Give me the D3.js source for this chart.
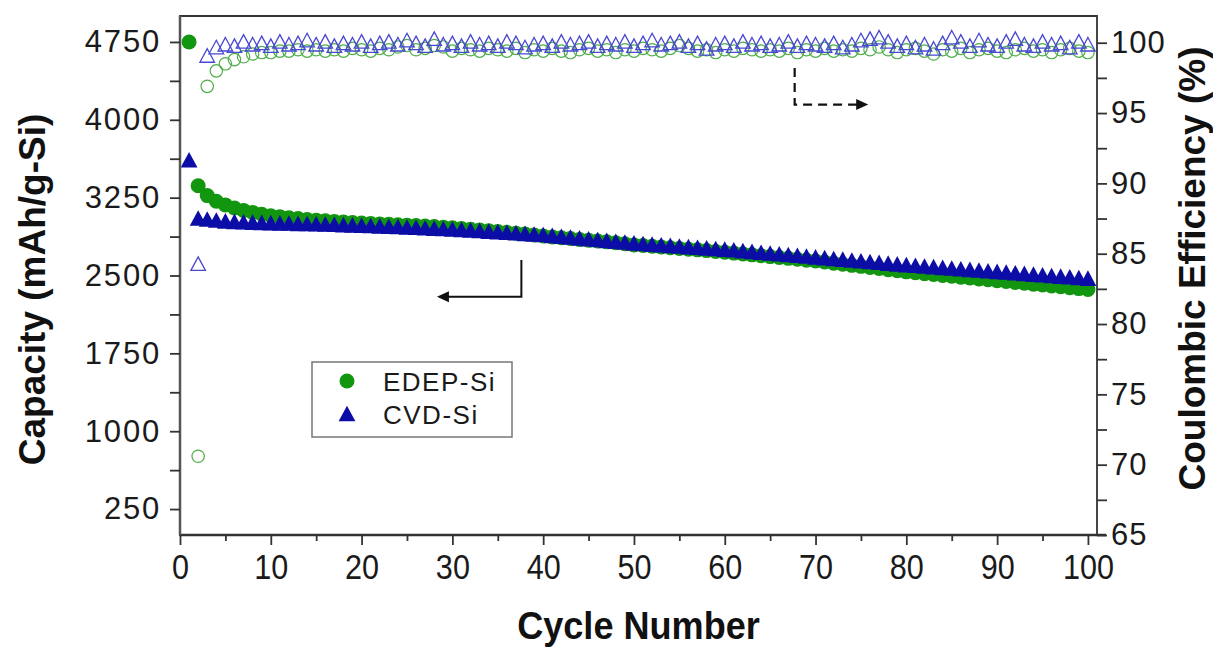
<!DOCTYPE html>
<html>
<head>
<meta charset="utf-8">
<script src="https://cdn.jsdelivr.net/npm/d3@7"></script>
<style>
html,body{margin:0;padding:0;background:#fff;}
svg{display:block;font-family:"Liberation Sans",Arial,sans-serif;}
</style>
</head>
<body>
<svg id="chart" width="1213" height="649"></svg>
<script>
// ---------------- DATA ----------------
const cycles = d3.range(1, 101);
const edepCapacity = [4750,3365,3270,3215,3180,3150,3127,3108,3090,3075,
3065,3056,3048,3040,3033,3027,3021,3016,3010,3005,
3001,2997,2993,2989,2985,2981,2977,2972,2966,2960,
2953,2946,2939,2932,2924,2916,2908,2900,2890,2880,
2872,2864,2856,2848,2840,2832,2824,2816,2806,2795,
2789,2782,2775,2768,2761,2754,2747,2740,2732,2725,
2716,2708,2699,2691,2682,2674,2665,2657,2648,2640,
2630,2619,2609,2598,2588,2577,2567,2556,2546,2535,
2527,2518,2510,2501,2493,2484,2476,2467,2459,2450,
2442,2433,2425,2416,2408,2399,2391,2382,2374,2365];
const cvdCapacity = [3600,3040,3030,3020,3012,3007,3003,3000,2997,2995,
2993,2991,2988,2986,2984,2981,2979,2976,2973,2970,
2967,2964,2960,2957,2953,2950,2946,2942,2939,2935,
2930,2925,2919,2913,2908,2902,2897,2891,2886,2880,
2872,2864,2856,2848,2840,2832,2824,2816,2808,2800,
2794,2788,2782,2776,2770,2764,2758,2752,2746,2740,
2733,2725,2718,2710,2703,2695,2688,2680,2673,2665,
2658,2650,2643,2635,2628,2620,2613,2605,2598,2590,
2584,2577,2571,2564,2558,2551,2545,2538,2532,2525,
2519,2512,2506,2499,2493,2486,2480,2473,2467,2460];
// Coulombic efficiency, cycles 2..100
const ceCycles = d3.range(2, 101);
const edepCE = [70.6,96.9,98.0,98.5,98.8,99.0,99.2,99.3,99.3,
99.4,99.4,99.5,99.4,99.5,99.4,99.5,99.4,99.6,99.5,
99.4,99.6,99.5,99.7,99.8,99.5,99.6,99.8,99.7,99.4,
99.6,99.5,99.4,99.6,99.5,99.4,99.6,99.3,99.5,99.4,
99.6,99.4,99.3,99.5,99.6,99.4,99.5,99.3,99.5,99.4,
99.6,99.5,99.4,99.6,99.8,99.6,99.4,99.5,99.3,99.5,
99.4,99.6,99.5,99.4,99.5,99.4,99.6,99.3,99.5,99.4,
99.6,99.4,99.5,99.4,99.6,99.5,99.7,99.5,99.3,99.5,
99.6,99.4,99.2,99.5,99.4,99.6,99.3,99.5,99.6,99.4,
99.3,99.5,99.6,99.4,99.5,99.3,99.5,99.6,99.4,99.3];
const cvdCE = [84.2,99.0,99.6,99.8,99.7,100.0,99.8,99.9,99.7,
100.0,99.8,99.9,100.1,99.8,100.0,99.7,99.9,99.8,100.0,
99.7,99.9,100.0,99.8,100.1,99.9,99.7,100.2,99.8,99.9,
99.7,100.0,99.8,99.9,99.7,100.0,99.9,99.6,99.8,99.9,
99.7,100.0,99.8,99.9,100.0,99.7,99.9,99.8,100.0,99.7,
99.9,100.1,99.8,99.9,100.0,99.7,99.9,99.5,99.8,99.9,
99.7,100.0,99.8,99.9,99.7,99.8,100.0,99.7,99.9,99.8,
99.7,99.9,99.6,99.8,100.1,100.2,100.3,100.0,99.7,99.9,
99.6,99.8,99.5,99.9,100.3,100.0,99.7,100.1,99.8,99.7,
100.0,100.2,99.8,99.7,100.0,99.8,99.9,99.6,100.0,99.8];
const xTicks = [0,10,20,30,40,50,60,70,80,90,100];
const leftTicks = [250,1000,1750,2500,3250,4000,4750];
const rightTicks = [65,70,75,80,85,90,95,100];
const seriesNames = ["EDEP-Si","CVD-Si"];

// ---------------- SETUP ----------------
const svg = d3.select("#chart");
const L = 180, R = 1097, T = 16, B = 535;
const x = d3.scaleLinear().domain([0, 101]).range([L, R]);
const yL = d3.scaleLinear().domain([0, 5000]).range([B, T]);
const yR = d3.scaleLinear().domain([65, 101.9]).range([B, T]);

const green = "#12960f", blue = "#0c0ca6";
const greenOpen = "#4fae4a", blueOpen = "#4848d2";
const axisCol = "#333";

function tri(cx, cy, s){
  return `M${cx},${cy - s*0.62}L${cx + s*0.56},${cy + s*0.42}L${cx - s*0.56},${cy + s*0.42}Z`;
}

// ---------------- DATA MARKS ----------------
const gData = svg.append("g");
gData.append("g").selectAll("circle").data(ceCycles).join("circle")
  .attr("cx", (d,i) => x(d)).attr("cy", (d,i) => yR(edepCE[i])).attr("r", 6.2)
  .attr("fill", "none").attr("stroke", greenOpen).attr("stroke-width", 1.2);
gData.append("g").selectAll("path").data(ceCycles).join("path")
  .attr("d", (d,i) => tri(x(d), yR(cvdCE[i]), 13))
  .attr("fill", "none").attr("stroke", blueOpen).attr("stroke-width", 1.3);
gData.append("g").selectAll("circle").data(cycles).join("circle")
  .attr("cx", d => x(d)).attr("cy", (d,i) => yL(edepCapacity[i])).attr("r", 7.5)
  .attr("fill", green);
gData.append("g").selectAll("path").data(cycles).join("path")
  .attr("d", (d,i) => tri(x(d), yL(cvdCapacity[i]), 15))
  .attr("fill", blue);

// ---------------- AXES ----------------
function styleAxis(g){
  g.select(".domain").remove();
  g.selectAll(".tick line").attr("stroke", axisCol).attr("stroke-width", 1.8);
  g.selectAll("text").attr("fill", "#1a1a1a").style("font-size", "31px");
}
svg.append("path")
  .attr("d", `M${L},${B}V${T}H${R}V${B}`)
  .attr("fill", "none").attr("stroke", axisCol).attr("stroke-width", 1.8);
svg.append("line").attr("x1", L - 1).attr("x2", R + 9).attr("y1", B).attr("y2", B)
  .attr("stroke", axisCol).attr("stroke-width", 2.5);
svg.append("line").attr("x1", L).attr("x2", L).attr("y1", T).attr("y2", B)
  .attr("stroke", "#555").attr("stroke-width", 2.5);

const gl = svg.append("g").attr("transform", `translate(${L},0)`)
  .call(d3.axisLeft(yL).tickValues(leftTicks).tickFormat(d3.format("d")).tickSize(10).tickPadding(9));
styleAxis(gl);
gl.selectAll("text").attr("letter-spacing", "1.8px");
svg.append("g").attr("transform", `translate(${L},0)`)
  .call(d3.axisLeft(yL).tickValues(leftTicks.slice(0,-1).map(v => v + 375)).tickFormat("").tickSize(10))
  .call(styleAxis);

const gr = svg.append("g").attr("transform", `translate(${R},0)`)
  .call(d3.axisRight(yR).tickValues(rightTicks).tickFormat(d3.format("d")).tickSize(10).tickPadding(4));
styleAxis(gr);
gr.selectAll("text").attr("letter-spacing", "1px");
svg.append("g").attr("transform", `translate(${R},0)`)
  .call(d3.axisRight(yR).tickValues(rightTicks.slice(0,-1).map(v => v + 2.5)).tickFormat("").tickSize(10))
  .call(styleAxis);

const gb = svg.append("g").attr("transform", `translate(0,${B})`)
  .call(d3.axisBottom(x).tickValues(xTicks).tickFormat(d3.format("d")).tickSize(10).tickPadding(8));
styleAxis(gb);
gb.selectAll("text").style("font-size", "36px").attr("transform", "scale(0.85,1)");
svg.append("g").attr("transform", `translate(0,${B})`)
  .call(d3.axisBottom(x).tickValues(xTicks.slice(0,-1).map(v => v + 5)).tickFormat("").tickSize(6))
  .call(styleAxis);

// ---------------- TITLES ----------------
svg.append("text").text("Cycle Number")
  .attr("transform", `translate(${(L + R) / 2},639) scale(0.95,1)`)
  .attr("text-anchor", "middle").attr("font-weight", "bold").attr("font-size", 38).attr("fill", "#111");
svg.append("text").text("Capacity (mAh/g-Si)")
  .attr("transform", `translate(45,${(T + B) / 2 + 14}) rotate(-90)`)
  .attr("text-anchor", "middle").attr("font-weight", "bold").attr("font-size", 37).attr("fill", "#111");
svg.append("text").text("Coulombic Efficiency (%)")
  .attr("transform", `translate(1205,${(T + B) / 2 - 7}) rotate(-90)`)
  .attr("text-anchor", "middle").attr("font-weight", "bold").attr("font-size", 37).attr("fill", "#111");

// ---------------- ANNOTATION ARROWS ----------------
const solidArrow = {cx: 37.6, yTop: 2650, yBot: 2295, tip: 28.3};
const dashArrow = {cx: 67.7, yTop: 98.2, yBot: 95.6, tip: 75.8};
svg.append("path")
  .attr("d", `M${x(solidArrow.cx)},${yL(solidArrow.yTop)}V${yL(solidArrow.yBot)}H${x(solidArrow.tip) + 8}`)
  .attr("fill", "none").attr("stroke", "#111").attr("stroke-width", 2);
svg.append("path")
  .attr("d", `M${x(solidArrow.tip)},${yL(solidArrow.yBot)}l12,-5.5v11z`).attr("fill", "#111");
svg.append("path")
  .attr("d", `M${x(dashArrow.cx)},${yR(dashArrow.yTop)}V${yR(dashArrow.yBot)}H${x(dashArrow.tip) - 8}`)
  .attr("fill", "none").attr("stroke", "#111").attr("stroke-width", 2.2).attr("stroke-dasharray", "9,6");
svg.append("path")
  .attr("d", `M${x(dashArrow.tip)},${yR(dashArrow.yBot)}l-12,-5.5v11z`).attr("fill", "#111");

// ---------------- LEGEND ----------------
const lg = svg.append("g").attr("transform", "translate(312,362)");
lg.append("rect").attr("width", 200).attr("height", 75)
  .attr("fill", "#fff").attr("stroke", "#777").attr("stroke-width", 1.5);
lg.append("circle").attr("cx", 35).attr("cy", 19).attr("r", 7.5).attr("fill", green);
lg.append("path").attr("d", tri(35, 53, 15)).attr("fill", blue);
lg.selectAll("text.lab").data(seriesNames).join("text").attr("class", "lab")
  .attr("x", 71).attr("y", (d,i) => 29 + i * 33)
  .attr("font-size", 26).attr("letter-spacing", "1.5px").attr("fill", "#1a1a1a").text(d => d);
</script>
</body>
</html>
